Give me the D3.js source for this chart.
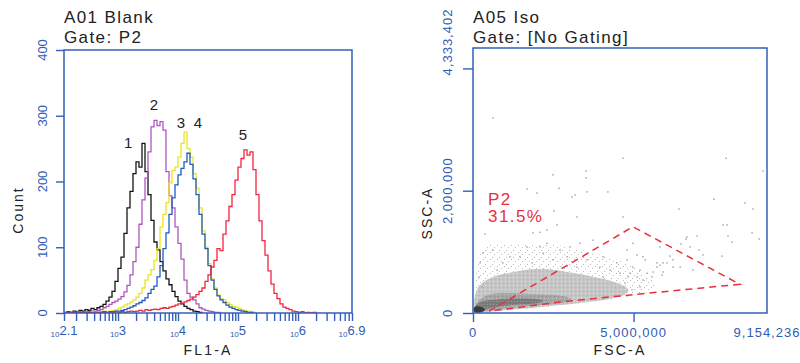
<!DOCTYPE html>
<html>
<head>
<meta charset="utf-8">
<script src="https://cdn.jsdelivr.net/npm/d3@7"></script>
<style>
  body { margin: 0; background: #fff; }
  svg { display: block; font-family: "Liberation Sans", Arial, sans-serif; }
</style>
</head>
<body>
<div id="container"></div>
<script>
/* DATA */
// histogram bins: log10(FL1-A) from 2.1 in steps of 0.05
const binStart = 2.1, binStep = 0.05;
const curveNames = ["1", "2", "3", "4", "5"];
const blackCounts = [1,2,1,3,2,4,3,5,4,7,5,8,10,13,18,24,33,48,68,85,121,160,185,212,230,222,258,215,180,141,108,96,78,64,52,43,33,25,18,14,10,7,5,3,2,1,0];
const purpleCounts = [0,1,0,1,1,2,1,2,2,3,2,4,5,8,10,13,16,18,21,25,32,42,58,78,100,135,172,205,245,283,293,285,291,278,215,178,160,131,106,82,50,30,24,20,14,8,6,4,3,2,1,1,0];
const yellowCounts = [1,0,1,0,1,1,0,1,1,2,1,2,2,3,2,3,4,5,7,9,12,14,17,20,24,30,38,50,58,66,80,98,131,150,168,198,217,222,237,258,275,250,237,212,190,160,125,100,75,52,38,27,22,20,16,13,10,9,7,5,4,3,2,1,0];
const blueCounts = [0,1,0,0,1,0,1,0,1,1,0,1,1,2,1,2,2,3,3,4,5,7,9,11,14,16,19,23,30,36,41,55,72,98,122,150,175,195,210,220,230,243,226,204,180,150,120,98,72,50,36,26,20,16,12,9,7,5,4,3,2,1,1,0];
const redCounts = [0,0,1,0,0,1,0,0,1,0,1,0,1,1,0,1,1,2,1,2,1,2,3,2,3,4,3,5,4,5,6,5,7,8,7,9,10,12,14,15,17,19,21,24,28,33,38,48,58,70,80,98,95,120,140,162,180,202,222,235,248,240,245,218,180,140,110,88,64,44,30,22,14,9,7,5,3,2,1,2,0,1,0,1,0];
const curveLabelLog = [3.17, 3.60, 4.05, 4.33, 5.08];
const curveLabelCount = [251, 309, 281, 281, 263];
const countTicks = [0, 100, 200, 300, 400];
const flExponents = [2.1, 3, 4, 5, 6, 6.9];

// scatter, FSC-A / SSC-A in millions
const fscMax = 9154236, sscMax = 4333402;
const fscLabels = [0, 5000000, 9154236];
const fscTicks = [0, 5000000];
const sscLabels = [0, 2000000, 4333402];
const sscTicks = [0, 2000000, 4000000];
const sparseEvents = [
  [0.62,3.19],[4.67,2.53],[7.88,2.53],[9.03,2.32],[3.52,2.32],[3.52,2.21],[2.49,2.26],[2.68,2.04],
  [1.68,2.03],[1.99,1.96],[3.18,1.93],[3.08,1.90],[3.55,1.98],[4.20,1.98],[7.50,1.86],[8.47,1.80],
  [8.72,1.70],[6.41,1.70],[2.52,1.67],[3.24,1.57],[4.67,1.57],[2.62,1.44],[2.30,1.36],[2.09,1.32],
  [7.91,1.44],[7.94,1.26],[8.69,1.31],[8.91,1.21],[8.07,1.16],[0.37,1.29],[0.31,0.98],[6.66,1.24],
  [6.98,1.26],[6.76,1.08],[5.82,1.08],[4.98,1.14],[4.80,1.03],[5.29,0.92],[5.73,0.82],[6.04,0.82],
  [6.23,0.87],[6.85,0.70],[5.20,0.70],[5.61,0.67],[4.48,0.82],[4.05,0.92],[4.27,0.70],[4.58,0.65],
  [4.83,0.59],[4.05,0.59],[3.02,1.08],[2.09,1.08],[1.46,0.92],[1.15,0.92],[1.87,1.31],[2.30,1.14],
  [2.71,1.03],[3.33,1.14],[1.84,0.82],[2.49,0.87],[0.22,0.82],[0.19,0.59],[0.28,0.43],[0.62,1.03],
  [0.93,0.82],[0.75,0.70],[3.74,1.19],[1.68,1.08],[2.18,0.98],[2.93,0.92],[3.55,0.87],[3.24,0.75],
  [3.95,0.75],[7.79,1.44],[6.63,1.21],[7.04,1.03],[7.75,0.93],[7.16,0.95],[6.48,1.13],[6.13,0.93],
  [5.92,0.82],[6.23,0.75],[6.45,0.75],[5.73,0.75],[5.92,0.67],[5.36,0.87],[5.11,0.95],[5.42,0.65],
  [5.29,0.54],[5.11,0.59],[4.98,0.75],[4.89,0.65],[4.80,0.87],[4.73,0.49],[5.20,0.43],[4.95,0.38],
  [5.57,0.59],[5.82,0.78],[5.89,0.62]
];
const haloOutline = [[0.03,0],[0.06,0.65],[0.20,1.05],[0.59,1.15],[1.15,1.10],[1.93,1.15],[2.86,1.10],[3.80,0.98],[4.73,0.84],[5.45,0.62],[5.82,0.42],[5.20,0.27],[3.95,0.20],[2.71,0.11],[1.46,0.06],[0.53,0.02]];
const lightOutline = [[0.01,0.01],[0.04,0.30],[0.20,0.47],[0.53,0.58],[0.93,0.64],[1.37,0.68],[1.77,0.72],[2.18,0.73],[2.62,0.70],[3.02,0.66],[3.43,0.63],[3.86,0.58],[4.27,0.53],[4.64,0.47],[4.95,0.36],[4.58,0.25],[3.95,0.20],[3.02,0.14],[1.99,0.09],[0.93,0.04],[0.31,0.01]];
const midOutline = [[0.02,0.02],[0.10,0.18],[0.34,0.28],[0.69,0.33],[1.21,0.33],[1.93,0.31],[2.65,0.30],[3.25,0.24],[2.71,0.14],[1.77,0.12],[0.84,0.07],[0.28,0.02]];
const darkOutline = [[0.02,0.01],[0.05,0.12],[0.22,0.19],[0.53,0.21],[1.00,0.24],[1.62,0.24],[2.30,0.22],[2.09,0.15],[1.31,0.14],[0.69,0.10],[0.28,0.04]];
const coreOutline = [[0,0],[0,0.10],[0.18,0.12],[0.45,0.06],[0.25,0]];
const gateP2 = [[0.50,0.03],[4.98,1.41],[8.31,0.47],[4.98,0.30],[2.71,0.18]];
const gateLabel = { name: "P2", pct: "31.5%", fsc: 0.47, ssc: 1.77 };

/* STYLE */
const axisBlue = "#3260b8", labelBlue = "#2f5cb4";
const curveColors = ["#141414", "#b055c0", "#ece41c", "#1f5cc0", "#f2263f"];
const allCounts = [blackCounts, purpleCounts, yellowCounts, blueCounts, redCounts];

const svg = d3.select("#container")
  .append("svg")
  .attr("width", 800)
  .attr("height", 363);

// ---------- LEFT PANEL: histogram ----------
const hist = { left: 64, right: 352, top: 50, bottom: 313 };
const xHist = d3.scaleLinear().domain([2.1, 6.9]).range([hist.left, hist.right]);
const yHist = d3.scaleLinear().domain([0, 400]).range([hist.bottom, hist.top]);

const minorLogs = [];
for (let d = 2; d <= 6; d++) {
  for (let k = 1; k <= 9; k++) {
    const v = d + Math.log10(k);
    if (v >= 2.1 - 1e-9 && v <= 6.9 + 1e-9) minorLogs.push(v);
  }
}
minorLogs.push(2.1, 6.9);

const gx = svg.append("g")
  .attr("transform", `translate(0,${hist.bottom})`)
  .call(d3.axisBottom(xHist).tickValues(minorLogs).tickSize(8).tickFormat(""));
const gy = svg.append("g")
  .attr("transform", `translate(${hist.left},0)`)
  .call(d3.axisLeft(yHist).tickValues(countTicks).tickSize(8).tickFormat(""));
[gx, gy].forEach(g => {
  g.select(".domain").remove();
  g.selectAll("line").attr("stroke", axisBlue).attr("stroke-width", 1.4);
});

// histogram curves
const histLine = d3.line()
  .x(d => xHist(d[0]))
  .y(d => yHist(d[1]))
  .curve(d3.curveStepAfter);
svg.append("clipPath").attr("id", "hist-clip")
  .append("rect").attr("x", hist.left).attr("y", hist.top)
  .attr("width", hist.right - hist.left).attr("height", hist.bottom - hist.top);

svg.append("g").attr("clip-path", "url(#hist-clip)")
  .selectAll("path.hist")
  .data(allCounts)
  .join("path")
  .attr("class", "hist")
  .attr("d", counts => histLine(counts.map((c, i) => [binStart + i * binStep, c])))
  .attr("fill", "none")
  .attr("stroke", (d, i) => curveColors[i])
  .attr("stroke-width", 1.3);

svg.append("rect")
  .attr("x", hist.left).attr("y", hist.top)
  .attr("width", hist.right - hist.left).attr("height", hist.bottom - hist.top)
  .attr("fill", "none").attr("stroke", axisBlue).attr("stroke-width", 1.5);

svg.selectAll("text.curve-label")
  .data(curveNames)
  .join("text")
  .attr("class", "curve-label")
  .attr("x", (d, i) => xHist(curveLabelLog[i]))
  .attr("y", (d, i) => yHist(curveLabelCount[i]))
  .attr("text-anchor", "middle")
  .style("font-size", "15px")
  .style("fill", "#222")
  .text(d => d);

// x tick labels 10^e
const xLab = svg.selectAll("text.x-lab")
  .data(flExponents)
  .join("text")
  .attr("class", "x-lab")
  .attr("x", d => xHist(d))
  .attr("y", 336)
  .attr("text-anchor", "middle")
  .style("fill", labelBlue);
xLab.append("tspan").style("font-size", "8px").attr("dy", 1).text("10");
xLab.append("tspan").style("font-size", "13px").attr("dy", -2).text(d => d);

// y tick labels (rotated)
svg.selectAll("text.y-lab")
  .data(countTicks)
  .join("text")
  .attr("class", "y-lab")
  .attr("transform", d => `translate(47,${yHist(d)}) rotate(-90)`)
  .attr("text-anchor", "middle")
  .style("font-size", "13px")
  .style("fill", labelBlue)
  .text(d => d);

svg.append("text")
  .attr("x", (hist.left + hist.right) / 2).attr("y", 355)
  .attr("text-anchor", "middle")
  .style("font-size", "14px").style("letter-spacing", "2.2px").style("fill", "#222")
  .text("FL1-A");
svg.append("text")
  .attr("transform", "translate(23,210) rotate(-90)")
  .attr("text-anchor", "middle")
  .style("font-size", "14px").style("letter-spacing", "2px").style("fill", "#222")
  .text("Count");

// titles
const titleStyle = sel => sel.style("font-size", "17px").style("letter-spacing", "1.4px").style("fill", "#222");
svg.append("text").attr("x", 64).attr("y", 23).call(titleStyle).text("A01 Blank");
svg.append("text").attr("x", 64).attr("y", 43).call(titleStyle).text("Gate: P2");

// ---------- RIGHT PANEL: FSC vs SSC dot plot ----------
const dot = { left: 473, right: 767, top: 48, bottom: 313 };
const xDot = d3.scaleLinear().domain([0, fscMax]).range([dot.left, dot.right]);
const yDot = d3.scaleLinear().domain([0, sscMax]).range([dot.bottom, dot.top]);
const M = 1e6;

// speckle textures for the density layers
const defs = svg.append("defs");
function speckle(id, size, base, dots) {
  const p = defs.append("pattern")
    .attr("id", id)
    .attr("width", size).attr("height", size)
    .attr("patternUnits", "userSpaceOnUse");
  if (base) p.append("rect").attr("width", size).attr("height", size).attr("fill", base);
  dots.forEach(([x, y, c]) => p.append("rect").attr("x", x).attr("y", y).attr("width", 1).attr("height", 1).attr("fill", c));
}
speckle("tex-halo", 7, null, [[0, 0, "#b8b8b8"], [4, 2, "#c0c0c0"], [2, 5, "#b8b8b8"]]);
speckle("tex-light", 4, "#c6c6c6", [[1, 1, "#e4e4e4"], [3, 3, "#b4b4b4"]]);
speckle("tex-mid", 4, "#a6a6a6", [[0, 2, "#c4c4c4"], [2, 0, "#8c8c8c"]]);
speckle("tex-dark", 3, "#7a7a7a", [[1, 1, "#9c9c9c"]]);

defs.append("clipPath").attr("id", "dot-clip")
  .append("rect").attr("x", dot.left).attr("y", dot.top)
  .attr("width", dot.right - dot.left).attr("height", dot.bottom - dot.top);

const blob = d3.line()
  .x(d => xDot(d[0] * M))
  .y(d => yDot(d[1] * M))
  .curve(d3.curveBasisClosed);

const cloud = svg.append("g").attr("clip-path", "url(#dot-clip)");
const layers = [
  { pts: haloOutline, fill: "url(#tex-halo)" },
  { pts: lightOutline, fill: "url(#tex-light)" },
  { pts: midOutline, fill: "url(#tex-mid)" },
  { pts: darkOutline, fill: "url(#tex-dark)" },
  { pts: coreOutline, fill: "#3a3a3a" }
];
cloud.selectAll("path.cloud")
  .data(layers)
  .join("path")
  .attr("class", "cloud")
  .attr("d", d => blob(d.pts))
  .attr("fill", d => d.fill);

cloud.selectAll("rect.event")
  .data(sparseEvents)
  .join("rect")
  .attr("class", "event")
  .attr("x", d => xDot(d[0] * M) - 0.75)
  .attr("y", d => yDot(d[1] * M) - 0.75)
  .attr("width", 1.5).attr("height", 1.5)
  .attr("fill", "#a8a8a8");

// gate
svg.append("path")
  .datum(gateP2)
  .attr("d", d3.line().x(d => xDot(d[0] * M)).y(d => yDot(d[1] * M)).curve(d3.curveLinearClosed))
  .attr("fill", "none")
  .attr("stroke", "#e8303c")
  .attr("stroke-width", 1.5)
  .attr("stroke-dasharray", "7,5");

const gl = svg.append("text")
  .attr("x", xDot(gateLabel.fsc * M))
  .attr("y", yDot(gateLabel.ssc * M))
  .style("font-size", "17px").style("letter-spacing", "1.4px").style("fill", "#e8303c");
gl.append("tspan").text(gateLabel.name);
gl.append("tspan").attr("x", xDot(gateLabel.fsc * M)).attr("dy", 17.5).text(gateLabel.pct);

// axes
const gx2 = svg.append("g")
  .attr("transform", `translate(0,${dot.bottom})`)
  .call(d3.axisBottom(xDot).tickValues(fscTicks).tickSize(9).tickFormat(""));
const gy2 = svg.append("g")
  .attr("transform", `translate(${dot.left},0)`)
  .call(d3.axisLeft(yDot).tickValues(sscTicks).tickSize(10).tickFormat(""));
[gx2, gy2].forEach(g => {
  g.select(".domain").remove();
  g.selectAll("line").attr("stroke", axisBlue).attr("stroke-width", 1.4);
});

svg.append("rect")
  .attr("x", dot.left).attr("y", dot.top)
  .attr("width", dot.right - dot.left).attr("height", dot.bottom - dot.top)
  .attr("fill", "none").attr("stroke", axisBlue).attr("stroke-width", 1.5);

svg.selectAll("text.fsc-lab")
  .data(fscLabels)
  .join("text")
  .attr("class", "fsc-lab")
  .attr("x", d => xDot(d))
  .attr("y", 337)
  .attr("text-anchor", "middle")
  .style("font-size", "13px").style("letter-spacing", "1px").style("fill", labelBlue)
  .text(d => d3.format(",")(d));

svg.selectAll("text.ssc-lab")
  .data(sscLabels)
  .join("text")
  .attr("class", "ssc-lab")
  .attr("transform", d => `translate(452,${d === sscMax ? yDot(d) - 6 : yDot(d)}) rotate(-90)`)
  .attr("text-anchor", "middle")
  .style("font-size", "13px").style("letter-spacing", "1px").style("fill", labelBlue)
  .text(d => d3.format(",")(d));

svg.append("text")
  .attr("x", (dot.left + dot.right) / 2).attr("y", 355)
  .attr("text-anchor", "middle")
  .style("font-size", "14px").style("letter-spacing", "2.2px").style("fill", "#222")
  .text("FSC-A");
svg.append("text")
  .attr("transform", "translate(432,213) rotate(-90)")
  .attr("text-anchor", "middle")
  .style("font-size", "14px").style("letter-spacing", "2px").style("fill", "#222")
  .text("SSC-A");

svg.append("text").attr("x", 473).attr("y", 23).call(titleStyle).text("A05 Iso");
svg.append("text").attr("x", 473).attr("y", 43).call(titleStyle).text("Gate: [No Gating]");
</script>
</body>
</html>
